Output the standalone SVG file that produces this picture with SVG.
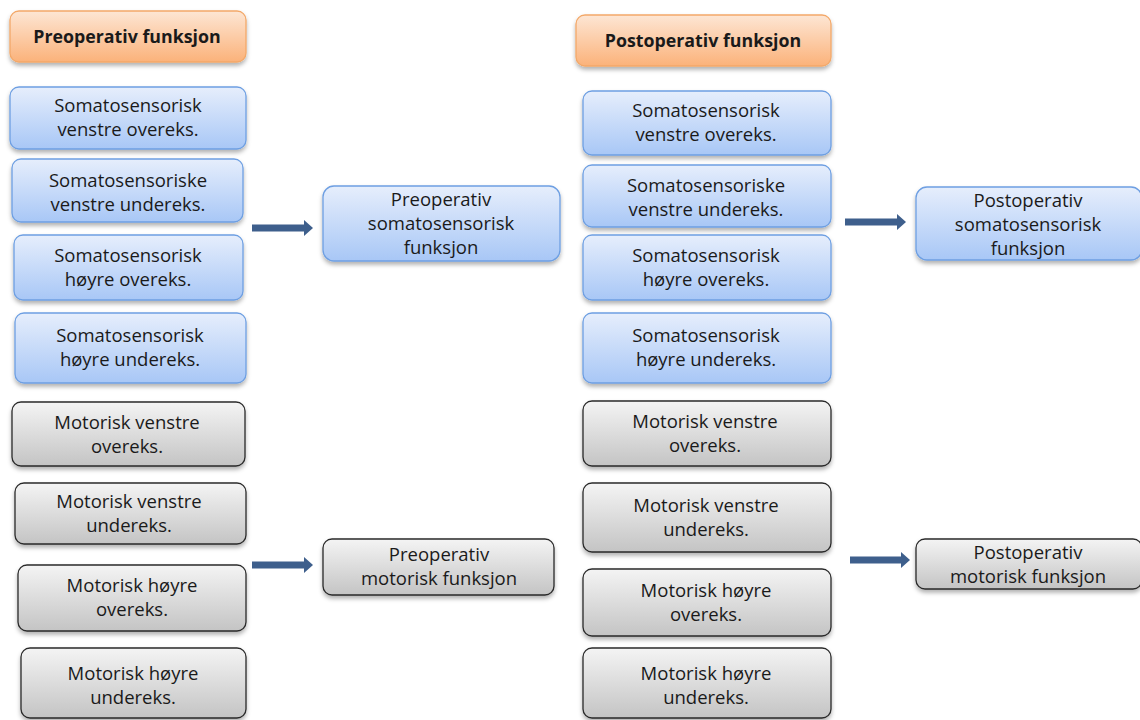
<svg xmlns="http://www.w3.org/2000/svg" width="1140" height="720" viewBox="0 0 1140 720">
<defs>
<linearGradient id="gb" x1="0" y1="0" x2="0" y2="1"><stop offset="0" stop-color="#e6eefc"/><stop offset="1" stop-color="#a8c7f6"/></linearGradient>
<linearGradient id="gg" x1="0" y1="0" x2="0" y2="1"><stop offset="0" stop-color="#f4f4f4"/><stop offset="1" stop-color="#c4c4c4"/></linearGradient>
<linearGradient id="go" x1="0" y1="0" x2="0" y2="1"><stop offset="0" stop-color="#fde6d4"/><stop offset="1" stop-color="#fbb27a"/></linearGradient>
<filter id="sh" x="-10%" y="-10%" width="120%" height="140%"><feDropShadow dx="0" dy="3" stdDeviation="2" flood-color="#000" flood-opacity="0.3"/></filter>
<marker id="ah" viewBox="0 0 9 16" refX="0" refY="8" markerWidth="9" markerHeight="16" orient="auto" markerUnits="userSpaceOnUse"><path d="M0,0 L9,8 L0,16 z" fill="#3e5f8c"/></marker>
</defs>
<style>
.b{fill:url(#gb);stroke:#6e9fe2;stroke-width:1.3;filter:url(#sh)}
.g{fill:url(#gg);stroke:#2a2a2a;stroke-width:1.3;filter:url(#sh)}
.o{fill:url(#go);stroke:#f3a869;stroke-width:1.3;filter:url(#sh)}
text{font-family:"Open Sans","Liberation Sans",Arial,sans-serif;font-size:18.5px;fill:#1a1a1a;text-anchor:middle}
.h{font-weight:bold;font-size:17.8px}
.c{stroke:#3e5f8c;stroke-width:7;fill:none}
</style>
<rect width="1140" height="720" fill="#fff"/>
<g id="connectors">
<line class="c" x1="252" y1="228" x2="304" y2="228" marker-end="url(#ah)"/>
<line class="c" x1="252" y1="565" x2="304" y2="565" marker-end="url(#ah)"/>
<line class="c" x1="845" y1="222" x2="897" y2="222" marker-end="url(#ah)"/>
<line class="c" x1="850" y1="560" x2="901" y2="560" marker-end="url(#ah)"/>
</g>
<g id="pre-header"><rect class="o" x="10" y="11" width="236" height="51" rx="9"/><text class="h" x="127" y="43">Preoperativ  funksjon</text></g>
<g id="pre-s1"><rect class="b" x="10" y="87" width="236" height="62" rx="9"/><text x="128" y="112">Somatosensorisk</text><text x="128" y="136">venstre overeks.</text></g>
<g id="pre-s2"><rect class="b" x="12" y="159" width="231" height="63" rx="9"/><text x="128" y="187">Somatosensoriske</text><text x="128" y="211">venstre undereks.</text></g>
<g id="pre-s3"><rect class="b" x="14" y="235" width="229" height="65" rx="9"/><text x="128" y="262">Somatosensorisk</text><text x="128" y="286">høyre overeks.</text></g>
<g id="pre-s4"><rect class="b" x="15" y="313" width="231" height="70" rx="9"/><text x="130" y="342">Somatosensorisk</text><text x="130" y="366">høyre undereks.</text></g>
<g id="pre-m1"><rect class="g" x="12" y="402" width="233" height="64" rx="9"/><text x="127" y="429">Motorisk venstre</text><text x="127" y="453">overeks.</text></g>
<g id="pre-m2"><rect class="g" x="15" y="483" width="231" height="61" rx="9"/><text x="129" y="508">Motorisk venstre</text><text x="129" y="532">undereks.</text></g>
<g id="pre-m3"><rect class="g" x="18" y="565" width="228" height="66" rx="9"/><text x="132" y="592">Motorisk høyre</text><text x="132" y="616">overeks.</text></g>
<g id="pre-m4"><rect class="g" x="21" y="648" width="225" height="70" rx="9"/><text x="133" y="680">Motorisk høyre</text><text x="133" y="704">undereks.</text></g>
<g id="pre-somato"><rect class="b" x="323" y="186" width="237" height="75" rx="11"/><text x="441" y="206">Preoperativ</text><text x="441" y="230">somatosensorisk</text><text x="441" y="254">funksjon</text></g>
<g id="pre-motor"><rect class="g" x="323" y="539" width="231" height="56" rx="9"/><text x="439" y="561">Preoperativ</text><text x="439" y="585">motorisk funksjon</text></g>
<g id="post-header"><rect class="o" x="576" y="15" width="255" height="51" rx="9"/><text class="h" x="703" y="47">Postoperativ  funksjon</text></g>
<g id="post-s1"><rect class="b" x="583" y="91" width="248" height="64" rx="9"/><text x="706" y="117">Somatosensorisk</text><text x="706" y="141">venstre overeks.</text></g>
<g id="post-s2"><rect class="b" x="583" y="165" width="248" height="62" rx="9"/><text x="706" y="192">Somatosensoriske</text><text x="706" y="216">venstre undereks.</text></g>
<g id="post-s3"><rect class="b" x="583" y="235" width="248" height="65" rx="9"/><text x="706" y="262">Somatosensorisk</text><text x="706" y="286">høyre overeks.</text></g>
<g id="post-s4"><rect class="b" x="583" y="313" width="248" height="70" rx="9"/><text x="706" y="342">Somatosensorisk</text><text x="706" y="366">høyre undereks.</text></g>
<g id="post-m1"><rect class="g" x="583" y="401" width="248" height="65" rx="9"/><text x="705" y="428">Motorisk venstre</text><text x="705" y="452">overeks.</text></g>
<g id="post-m2"><rect class="g" x="583" y="483" width="248" height="69" rx="9"/><text x="706" y="512">Motorisk venstre</text><text x="706" y="536">undereks.</text></g>
<g id="post-m3"><rect class="g" x="583" y="569" width="248" height="67" rx="9"/><text x="706" y="597">Motorisk høyre</text><text x="706" y="621">overeks.</text></g>
<g id="post-m4"><rect class="g" x="583" y="648" width="248" height="70" rx="9"/><text x="706" y="680">Motorisk høyre</text><text x="706" y="704">undereks.</text></g>
<g id="post-somato"><rect class="b" x="916" y="187" width="226" height="73" rx="11"/><text x="1028" y="207">Postoperativ</text><text x="1028" y="231">somatosensorisk</text><text x="1028" y="255">funksjon</text></g>
<g id="post-motor"><rect class="g" x="916" y="539" width="226" height="50" rx="9"/><text x="1028" y="559">Postoperativ</text><text x="1028" y="583">motorisk funksjon</text></g>
</svg>
